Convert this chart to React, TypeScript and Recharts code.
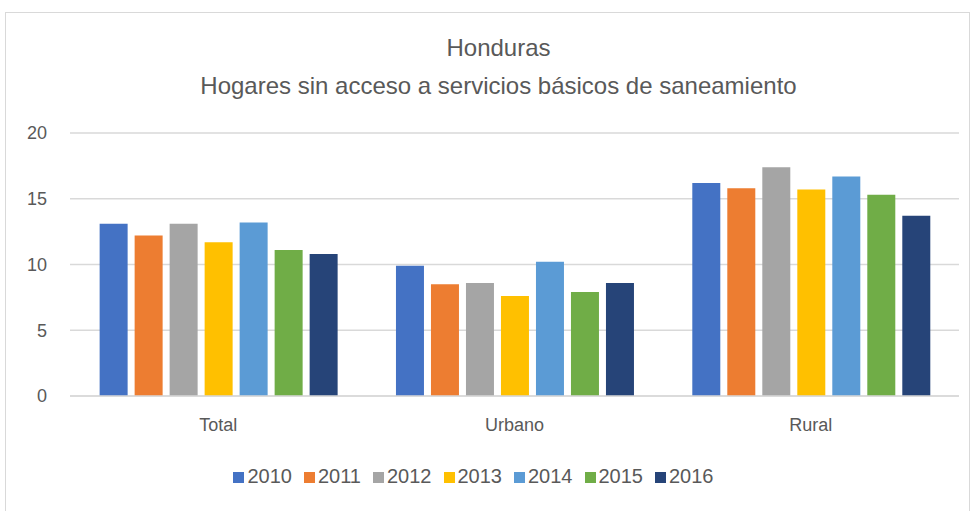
import React from 'react';
import { BarChart, Bar, XAxis, YAxis, CartesianGrid, Legend } from 'recharts';

const categories = ['Total', 'Urbano', 'Rural'];
const years = ['2010', '2011', '2012', '2013', '2014', '2015', '2016'];
const v2010 = [13.1, 9.9, 16.2];
const v2011 = [12.2, 8.5, 15.8];
const v2012 = [13.1, 8.6, 17.4];
const v2013 = [11.7, 7.6, 15.7];
const v2014 = [13.2, 10.2, 16.7];
const v2015 = [11.1, 7.9, 15.3];
const v2016 = [10.8, 8.6, 13.7];
const yTicks = [0, 5, 10, 15, 20];
const colors = ['#4472C4', '#ED7D31', '#A5A5A5', '#FFC000', '#5B9BD5', '#70AD47', '#264478'];

const seriesValues = [v2010, v2011, v2012, v2013, v2014, v2015, v2016];
const data = categories.map((c, i) => {
  const row: Record<string, any> = { name: c };
  years.forEach((y, j) => {
    row[y] = seriesValues[j][i];
  });
  return row;
});

const FONT = '"Liberation Sans", Arial, sans-serif';
const TXT = '#595959';

export default function App() {
  return (
    <div style={{ position: 'absolute', left: 0, top: 0, width: 975, height: 511, background: '#fff', overflow: 'hidden', fontFamily: FONT }}>
      <div style={{ position: 'absolute', left: 5, top: 12, width: 965, height: 520, border: '1px solid #d9d9d9', boxSizing: 'border-box' }} />
      <div style={{ position: 'absolute', left: 0, top: 29, width: 997, textAlign: 'center', color: TXT, fontSize: 24, lineHeight: '38px' }}>
        Honduras
        <br />
        Hogares sin acceso a servicios básicos de saneamiento
      </div>
      <div style={{ position: 'absolute', left: 0, top: 0 }}>
        <BarChart
          width={975}
          height={511}
          data={data}
          margin={{ top: 133, right: 16, left: 0, bottom: 23 }}
          barCategoryGap="10%"
          barGap={7}
        >
          <CartesianGrid vertical={false} stroke="#d9d9d9" strokeWidth={1.5} />
          <XAxis
            dataKey="name"
            axisLine={{ stroke: '#d9d9d9', strokeWidth: 1.5 }}
            tickLine={false}
            tick={{ fill: TXT, fontSize: 18, fontFamily: FONT }}
            tickMargin={16}
            height={40}
          />
          <YAxis
            domain={[0, 20]}
            ticks={yTicks}
            axisLine={false}
            tickLine={false}
            tickSize={0}
            tickMargin={23}
            width={70}
            tick={{ fill: TXT, fontSize: 18, fontFamily: FONT }}
          />
          <Legend
            verticalAlign="bottom"
            align="center"
            iconType="square"
            iconSize={11}
            wrapperStyle={{ fontFamily: FONT, fontSize: 20, paddingTop: 29, paddingRight: 60 }}
            formatter={(value: string) => <span style={{ color: TXT, marginLeft: -1, marginRight: 2 }}>{value}</span>}
          />
          {years.map((y, j) => (
            <Bar key={y} dataKey={y} fill={colors[j]} isAnimationActive={false} />
          ))}
        </BarChart>
      </div>
    </div>
  );
}
